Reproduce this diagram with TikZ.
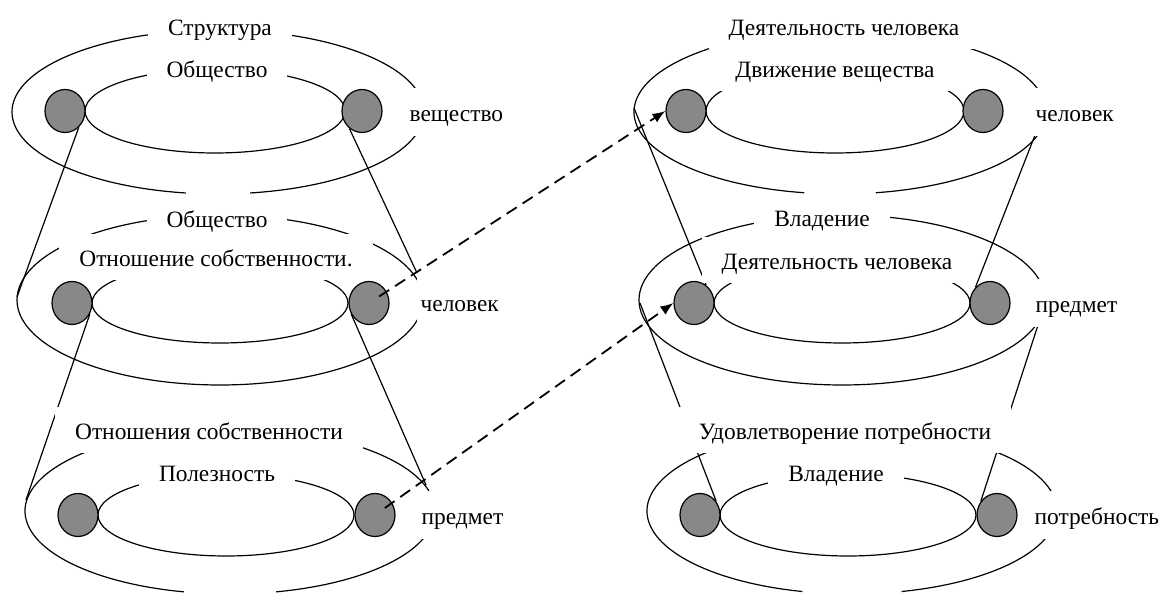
\documentclass[tikz,border=0pt]{standalone}
\usepackage{fontspec}
\setmainfont{Liberation Serif}
\usetikzlibrary{shapes.geometric,arrows.meta}
\definecolor{dotgray}{RGB}{136,136,136}

\begin{document}
\begin{tikzpicture}[x=0.5pt, y=0.5pt, line width=0.6pt,
  font=\fontsize{11.7}{14}\selectfont,
  dot/.style={ellipse, draw, fill=dotgray, minimum width=20pt, minimum height=21.5pt, inner sep=0pt},
  ttl/.style={fill=white, inner xsep=10pt, inner ysep=0pt, minimum height=23pt, text height=10.5pt, text depth=1pt},
  side/.style={fill=white, anchor=west, inner xsep=2pt, inner ysep=0pt, minimum height=24pt, text height=10.5pt, text depth=1pt},
  dasharrow/.style={dash pattern=on 6pt off 3.5pt, line width=0.9pt, -{Latex[length=6.5pt,width=5pt]}}]
	\useasboundingbox (0,0) rectangle (1168,-597);
	% left column
	\draw (218,-112) ++(279:206 and 82) arc[start angle=279, end angle=621, x radius=206, y radius=82];
	\draw (215,-111) ellipse [x radius=130, y radius=42];
	\draw (220,-300) ellipse [x radius=203, y radius=85];
	\draw (220,-303) ellipse [x radius=128, y radius=40];
	\draw (230,-511) ++(283:205 and 83) arc[start angle=283, end angle=617, x radius=205, y radius=83];
	\draw (226,-515) ellipse [x radius=128, y radius=41];
	% right column
	\draw (840,-112) ++(280:206 and 82) arc[start angle=280, end angle=620, x radius=206, y radius=82];
	\draw (835,-111) ellipse [x radius=129, y radius=42];
	\draw (842,-300) ellipse [x radius=203, y radius=85];
	\draw (842,-303) ellipse [x radius=128, y radius=40];
	\draw (852,-511) ++(284:205 and 83) arc[start angle=284, end angle=616, x radius=205, y radius=83];
	\draw (848,-515) ellipse [x radius=128, y radius=41];

	\node[dot] (g1l) at (65,-111) {};
	\node[dot] (g1r) at (362,-111) {};
	\node[dot] (g2l) at (72,-303) {};
	\node[dot] (g2r) at (369,-303) {};
	\node[dot] (g3l) at (78,-515) {};
	\node[dot] (g3r) at (375,-515) {};
	\node[dot] (r1l) at (686,-111) {};
	\node[dot] (r1r) at (983,-111) {};
	\node[dot] (r2l) at (694,-303) {};
	\node[dot] (r2r) at (990,-303) {};
	\node[dot] (r3l) at (700,-515) {};
	\node[dot] (r3r) at (997,-515) {};

	\coordinate (o2w) at (17,-297);
	\coordinate (o2e) at (417,-273);
	\coordinate (o3w) at (26,-500);
	\coordinate (o3e) at (426,-485);
	\coordinate (p1w) at (634,-108);
	\coordinate (p1e) at (1037,-130);
	\coordinate (p2w) at (640,-303);
	\coordinate (p2e) at (1039,-322);
	\draw (g1l.-50) -- (o2w);
	\draw (g1r.-126) -- (o2e);
	\draw (g2l.-32) -- (o3w);
	\draw (g2r.-148) -- (o3e);
	\draw (p1w) -- (r2l.56);
	\draw (p1e) -- (r2r.133);
	\draw (p2w) -- (r3l.40);
	\draw (p2e) -- (r3r.140);

	\node[ttl] (t1) at (220,-26) {Структура};
	\node[ttl] (n1) at (217,-68) {Общество};
	\node[side] (s1) at (405,-112) {вещество};
	\node[ttl] (t2) at (217,-218) {Общество};
	\node[ttl] (n2) at (216,-257) {Отношение собственности.};
	\node[side] (s2) at (416,-302) {человек};
	\node[ttl] (t3) at (209,-430) {Отношения собственности};
	\node[ttl] (n3) at (217,-472) {Полезность};
	\node[side] (s3) at (417,-515) {предмет};
	\node[ttl] (u1) at (844,-26) {Деятельность человека};
	\node[ttl] (m1) at (835,-68) {Движение вещества};
	\node[side] (v1) at (1031,-112) {человек};
	\node[ttl] (u2) at (822,-217) {Владение};
	\node[ttl] (m2) at (837,-260) {Деятельность человека};
	\node[side] (v2) at (1031,-303) {предмет};
	\node[ttl] (u3) at (845,-430) {Удовлетворение потребности};
	\node[ttl] (m3) at (836,-472) {Владение};
	\node[side] (v3) at (1030,-515) {потребность};

	\draw[dasharrow, shorten <=6pt] (g2r.center) -- (r1l.west);
	\draw[dasharrow, shorten <=6pt] (g3r.center) -- (r2l.west);
\end{tikzpicture}
\end{document}
